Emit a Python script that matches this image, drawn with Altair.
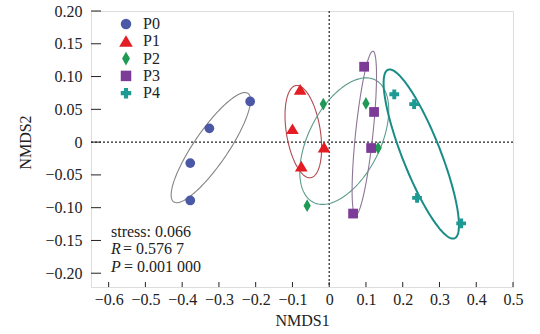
import altair as alt
import numpy as np
import pandas as pd

groups = ["P0", "P1", "P2", "P3", "P4"]
p0_x = [-0.215, -0.326, -0.378, -0.378]
p0_y = [0.062, 0.021, -0.032, -0.089]
p1_x = [-0.079, -0.100, -0.014, -0.076]
p1_y = [0.080, 0.020, -0.008, -0.037]
p2_x = [-0.016, 0.100, 0.133, -0.060]
p2_y = [0.058, 0.059, -0.009, -0.097]
p3_x = [0.095, 0.122, 0.114, 0.065]
p3_y = [0.115, 0.046, -0.009, -0.109]
p4_x = [0.177, 0.231, 0.239, 0.359]
p4_y = [0.073, 0.058, -0.085, -0.124]

# ellipse outlines: centre, half-extent along x and y, correlation
ell_cx = [-0.322, -0.0704, 0.041, 0.0955, 0.2505]
ell_cy = [-0.0084, 0.016, 0.0015, 0.0137, -0.0182]
ell_wx = [0.108, 0.0498, 0.121, 0.0332, 0.1025]
ell_wy = [0.084, 0.0704, 0.0965, 0.125, 0.129]
ell_rho = [0.86, -0.35, 0.49, 0.70, -0.84]

x_ticks = [-0.6, -0.5, -0.4, -0.3, -0.2, -0.1, 0, 0.1, 0.2, 0.3, 0.4, 0.5]
y_ticks = [-0.20, -0.15, -0.10, -0.05, 0, 0.05, 0.10, 0.15, 0.20]

stress_text = "stress: 0.066"
r_text = "= 0.576 7"
p_text = "= 0.001 000"

FONT = "Liberation Serif"
point_colors = ["#4a58a6", "#e31d23", "#1f9a55", "#7b3b97", "#1c9a93"]
ellipse_colors = ["#858585", "#b34a52", "#5c9c8c", "#8e7596", "#1a8c87"]
shapes = ["circle", "M0,-1.15L1.3,1.05L-1.3,1.05Z", "M0,-1.3L0.75,0L0,1.3L-0.75,0Z", "square", "cross"]

xs_list = [p0_x, p1_x, p2_x, p3_x, p4_x]
ys_list = [p0_y, p1_y, p2_y, p3_y, p4_y]
pts = pd.DataFrame({
    "group": [g for g, xs in zip(groups, xs_list) for _ in xs],
    "x": [v for xs in xs_list for v in xs],
    "y": [v for ys in ys_list for v in ys],
})

rows = []
t = np.linspace(0, 2 * np.pi, 161)
for i, g in enumerate(groups):
    ex = ell_cx[i] + ell_wx[i] * np.cos(t)
    ey = ell_cy[i] + ell_wy[i] * (ell_rho[i] * np.cos(t) + np.sqrt(1 - ell_rho[i] ** 2) * np.sin(t))
    for k in range(len(t)):
        rows.append({"egroup": g, "i": k, "ex": float(ex[k]), "ey": float(ey[k])})
ell = pd.DataFrame(rows)

W, H = 422, 276
xs = alt.Scale(domain=[-0.648, 0.5], nice=False, zero=False)
ys = alt.Scale(domain=[-0.221, 0.20], nice=False, zero=False)

xax = alt.Axis(values=x_ticks, ticks=False, domain=False, grid=False,
               labelFont=FONT, labelFontSize=16, labelColor="#222", labelPadding=4,
               labelFlush=False, labelOverlap=False,
               labelExpr="datum.value == 0 ? '0' : format(datum.value, '.1f')",
               titleFont=FONT, titleFontSize=16, titleFontWeight="normal", titleColor="#222",
               titleX=W / 2, titleY=33, titleBaseline="middle", titleAlign="center")
yax = alt.Axis(values=y_ticks, ticks=False, domain=False, grid=False,
               labelFont=FONT, labelFontSize=16, labelColor="#222", labelPadding=9,
               labelOverlap=False,
               labelExpr="datum.value == 0 ? '0' : format(datum.value, '.2f')",
               titleFont=FONT, titleFontSize=16, titleFontWeight="normal", titleColor="#222",
               titleX=-66, titleY=131, titleAngle=270, titleBaseline="middle", titleAlign="center")

X = lambda f: alt.X(f, type="quantitative", scale=xs, axis=xax, title="NMDS1")
Y = lambda f: alt.Y(f, type="quantitative", scale=ys, axis=yax, title="NMDS2")

zero_df = pd.DataFrame({"v": [0]})
hline = alt.Chart(zero_df).mark_rule(color="#222", strokeWidth=1.2, strokeDash=[2, 2]).encode(
    y=Y("v"), x=alt.value(0), x2=alt.value(W))
vline = alt.Chart(zero_df).mark_rule(color="#222", strokeWidth=1.2, strokeDash=[2, 2]).encode(
    x=X("v"), y=alt.value(0), y2=alt.value(H))

stroke_scale = alt.Scale(domain=groups, range=ellipse_colors)
thin = alt.Chart(ell).transform_filter("datum.egroup != 'P4'").mark_line(strokeWidth=1.1).encode(
    x=X("ex"), y=Y("ey"), order="i:Q", detail="egroup:N",
    stroke=alt.Stroke("egroup:N", scale=stroke_scale, legend=None))
thick = alt.Chart(ell).transform_filter("datum.egroup == 'P4'").mark_line(strokeWidth=2).encode(
    x=X("ex"), y=Y("ey"), order="i:Q", detail="egroup:N",
    stroke=alt.Stroke("egroup:N", scale=stroke_scale, legend=None))

points = alt.Chart(pts).mark_point(filled=True, opacity=1, size=95).encode(
    x=X("x"), y=Y("y"),
    color=alt.Color("group:N", scale=alt.Scale(domain=groups, range=point_colors), legend=None),
    shape=alt.Shape("group:N", scale=alt.Scale(domain=groups, range=shapes), legend=None),
)

# legend drawn as its own small marks, one row per group
legend_layers = []
for i, g in enumerate(groups):
    one = pd.DataFrame({"g": [g]})
    legend_layers.append(alt.Chart(one).mark_point(
        filled=True, opacity=1, size=110, color=point_colors[i], shape=shapes[i]
    ).encode(x=alt.value(35), y=alt.value(13 + 17.3 * i)))
    legend_layers.append(alt.Chart(one).mark_text(
        font=FONT, fontSize=16, color="#222", align="left", baseline="middle"
    ).encode(text="g:N", x=alt.value(52), y=alt.value(13 + 17.3 * i)))

xt = alt.Chart(pd.DataFrame({"v": x_ticks})).mark_rule(color="#222", strokeWidth=1).encode(
    x=X("v"), y=alt.value(H), y2=alt.value(H - 5))
yt = alt.Chart(pd.DataFrame({"v": y_ticks})).mark_rule(color="#222", strokeWidth=1).encode(
    y=Y("v"), x=alt.value(0), x2=alt.value(10))

def txt(s, x, y, style="normal"):
    return alt.Chart(pd.DataFrame({"s": [s]})).mark_text(
        font=FONT, fontSize=16, fontStyle=style, color="#222", align="left", baseline="middle"
    ).encode(text="s:N", x=alt.value(x), y=alt.value(y))

ann = [txt(stress_text, 20, 221), txt("R", 20, 238, "italic"), txt(r_text, 32, 238),
       txt("P", 20, 256, "italic"), txt(p_text, 33, 256)]

chart = alt.layer(hline, vline, thin, thick, points, xt, yt, *legend_layers, *ann).properties(
    width=W, height=H,
    autosize=alt.AutoSizeParams(type="none"),
    padding={"left": 91, "top": 11, "right": 27, "bottom": 47},
).configure_view(stroke="#222", strokeWidth=1.2).configure(background="white")

chart.save("out.html", embed_options={"renderer": "svg", "actions": False})
